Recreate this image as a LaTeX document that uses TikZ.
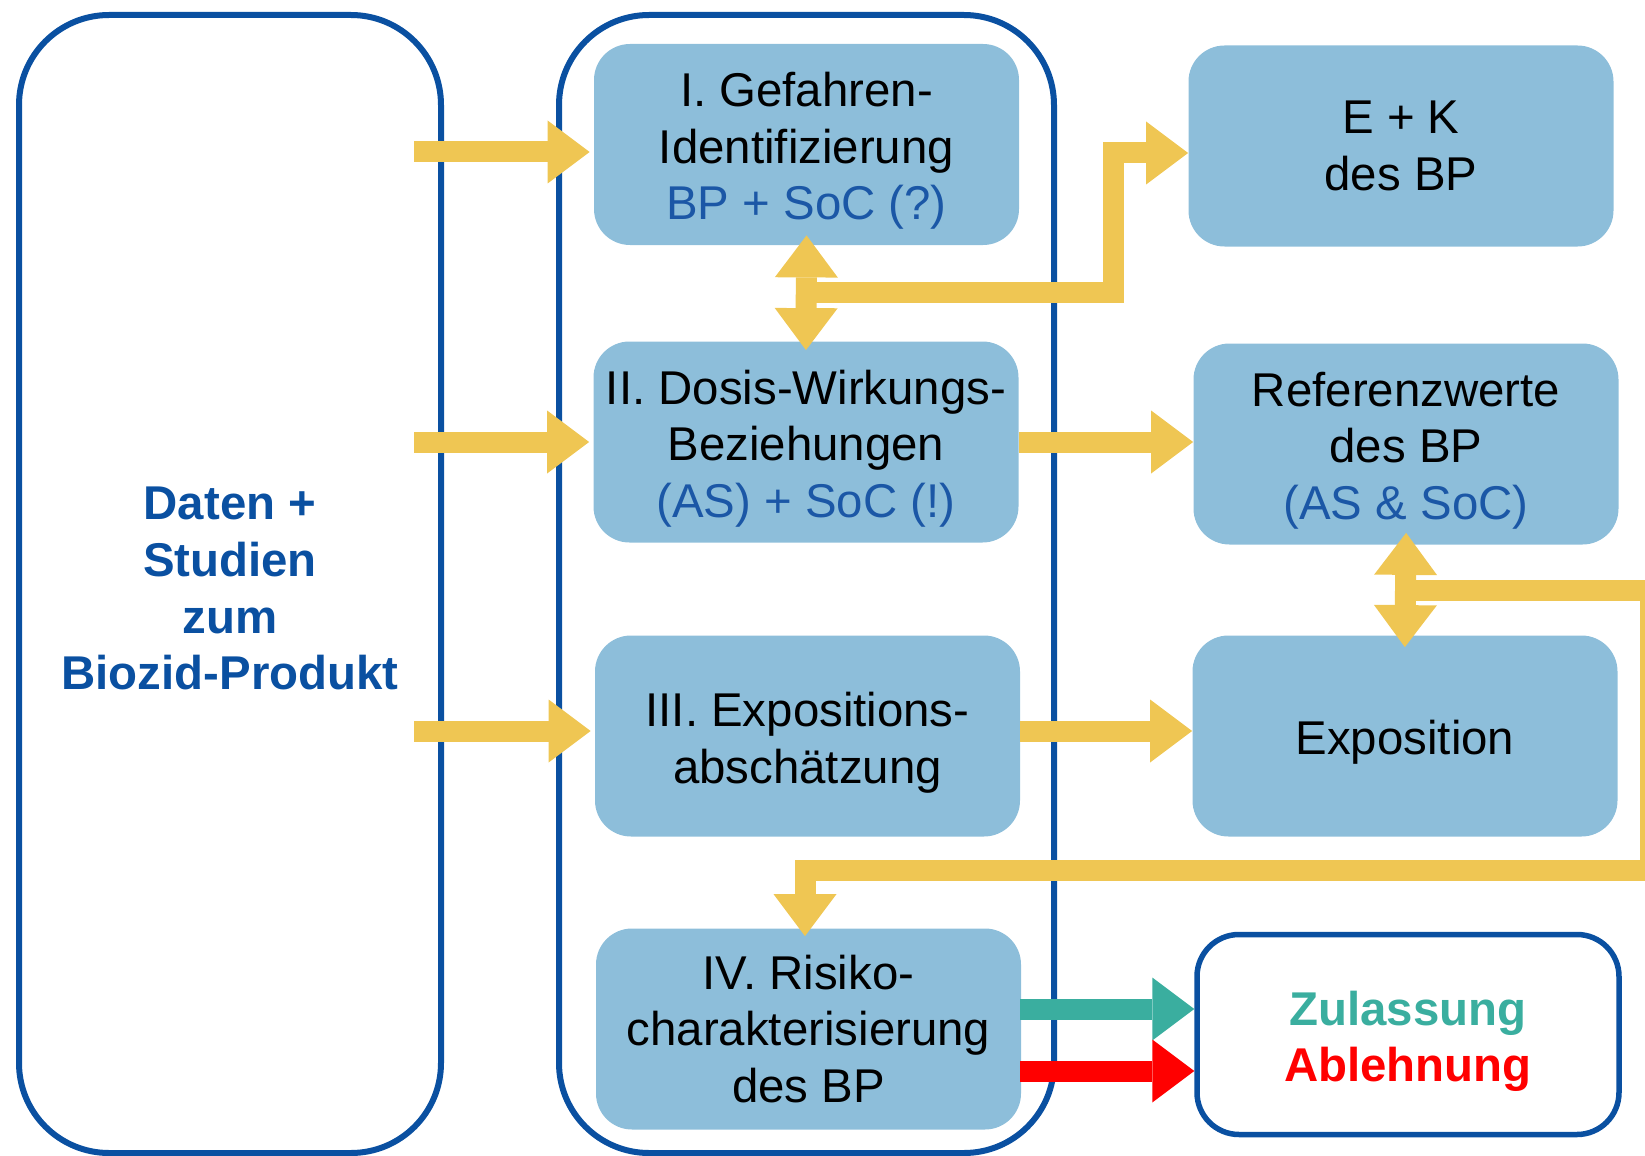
\documentclass[tikz,border=0pt]{standalone}
\usepackage{fontspec}
\setmainfont{Liberation Sans}
\usetikzlibrary{arrows.meta}

\definecolor{boxblau}{HTML}{8DBEDA}
\definecolor{randblau}{HTML}{0A50A1}
\definecolor{textblau}{HTML}{1B57A6}
\definecolor{pfeilgelb}{HTML}{EFC653}
\definecolor{tuerkis}{HTML}{3AAE9F}
\definecolor{rot}{HTML}{FF0000}

\newcommand\oben[1][23.7pt]{\rule{0pt}{#1}}

\begin{document}
\begin{tikzpicture}[x=0.5pt,y=-0.5pt,
    schrift/.style={font=\fontsize{23.7}{28.3}\selectfont},
    fett/.style={font=\fontsize{23.7}{28.3}\selectfont\bfseries},
    rahmen/.style={draw=randblau, line width=3pt, rounded corners=45pt, inner sep=0pt, minimum height=569pt},
    stufe/.style={fill=boxblau, rounded corners=18pt, minimum width=212.5pt, minimum height=100.5pt, inner sep=0pt, align=center, schrift},
    spitze/.tip={Triangle[length=21pt,width=31.5pt,line width=0pt]},
    gelb/.style={draw=pfeilgelb, line width=10.5pt, -spitze},
    gelbdoppelt/.style={draw=pfeilgelb, line width=10.5pt, spitze-spitze}]
    \useasboundingbox (0,0) rectangle (1645,1156);

    \node[rahmen, minimum width=211pt, align=center, fett, text=randblau] (daten) at (230,584) {\oben[21pt]Daten +\\Studien\\zum\\Biozid-Produkt};
    \node[rahmen, minimum width=247.5pt] (stufen) at (806.5,584) {};

    \node[stufe] (gef) at (806.5,144.5) {\oben I. Gefahren-\\Identifizierung\\\textcolor{textblau}{BP + SoC (?)}};
    \node[stufe] (dosis) at (806,442) {\oben II. Dosis-Wirkungs-\\Beziehungen\\\textcolor{textblau}{(AS) + SoC (!)}};
    \node[stufe] (expab) at (807.5,736) {\oben III. Expositions-\\abschätzung};
    \node[stufe] (risiko) at (808.5,1029) {IV. Risiko-\\charakterisierung\\des BP};
    \node[stufe] (ek) at (1401,146) {E + K\\des BP};
    \node[stufe] (ref) at (1406,444) {\oben Referenzwerte\\des BP\\\textcolor{textblau}{(AS \& SoC)}};
    \node[stufe] (expo) at (1405,736) {\oben Exposition};
    \node[draw=randblau, line width=2.75pt, rounded corners=21pt, minimum width=211pt, minimum height=100pt, inner sep=0pt, align=center, fett] (entsch) at (1408,1034.5) {\oben[24pt]\textcolor{tuerkis}{Zulassung}\\\textcolor{rot}{Ablehnung}};

    \coordinate (a1) at (414,152);
    \coordinate (a2) at (414,442);
    \coordinate (a3) at (414,731);
    \coordinate (k1) at (805,292);
    \coordinate (k2) at (1113,153);
    \coordinate (s1) at (1405,590);
    \coordinate (s2) at (1650,870);
    \coordinate (z) at (1020,1009);
    \coordinate (r) at (1020,1071);

    \draw[gelb, shorten >=2pt] (a1) -- (a1 -| gef.west);
    \draw[gelb, shorten >=2pt] (a2) -- (a2 -| dosis.west);
    \draw[gelb, shorten >=2pt] (a3) -- (a3 -| expab.west);
    \draw[gelb] (k1) -| (k2) -- (k2 -| ek.west);
    \draw[gelbdoppelt, shorten <=-5pt, shorten >=-4.5pt] (gef.south) -- (dosis.north);
    \draw[gelb] (dosis.east) -- (dosis.east -| ref.west);
    \draw[gelb] (a3 -| expab.east) -- (a3 -| expo.west);
    \draw[gelbdoppelt, shorten <=-6pt, shorten >=-6pt] (ref.south) -- (expo.north);
    \draw[gelb, shorten >=-4pt] (s1) -| (s2) -| ([xshift=-1.75pt]risiko.north);
    \draw[gelb, draw=tuerkis] (z) -- (z -| entsch.west);
    \draw[gelb, draw=rot] (r) -- (r -| entsch.west);
\end{tikzpicture}
\end{document}
